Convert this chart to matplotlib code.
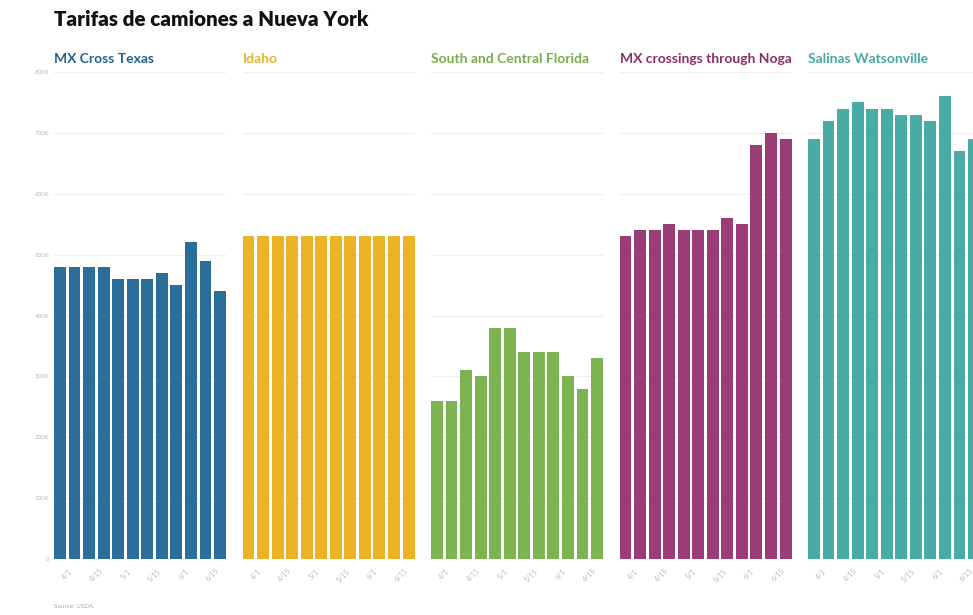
import matplotlib.pyplot as plt
import numpy as np
from matplotlib.transforms import Bbox, TransformedBbox

# weekly rates per origin (USD per truckload to New York)
weeks = ["4/1", "4/8", "4/15", "4/22", "5/1", "5/8", "5/15", "5/22", "6/1", "6/8", "6/15", "6/22"]
origins = ["MX Cross Texas", "Idaho", "South and Central Florida",
           "MX crossings through Nogales", "Salinas Watsonville"]
mx_texas = [4800, 4800, 4800, 4800, 4600, 4600, 4600, 4700, 4500, 5200, 4900, 4400]
idaho = [5300] * 12
florida = [2600, 2600, 3100, 3000, 3800, 3800, 3400, 3400, 3400, 3000, 2800, 3300]
nogales = [5300, 5400, 5400, 5500, 5400, 5400, 5400, 5600, 5500, 6800, 7000, 6900]
salinas = [6900, 7200, 7400, 7500, 7400, 7400, 7300, 7300, 7200, 7600, 6700, 6900]
series = [mx_texas, idaho, florida, nogales, salinas]
colors = ["#2b6e99", "#ebb424", "#7db353", "#9a3c75", "#48aca5"]
title_colors = ["#21628f", "#e9b325", "#77ad4d", "#8c2f68", "#43a9a2"]
yticks = [0, 1000, 2000, 3000, 4000, 5000, 6000, 7000, 8000]

plt.rcParams['font.family'] = ['Lato', 'DejaVu Sans']

fig = plt.figure(figsize=(9.73, 6.15), dpi=100)
fig.text(54 / 973, 1 - 19 / 615, "Tarifas de camiones a Nueva York",
         fontsize=14.8, fontweight="heavy", color="#111111", va="center")
fig.text(54 / 973, 1 - 606 / 615, "Source: USDA", fontsize=4.5, color="#aaaaaa", va="center")

left0 = 54 / 973
width = 172 / 973
pitch = 188.5 / 973
bottom = 1 - 559 / 615
height = (559 - 72) / 615

x = np.arange(len(weeks))
for i, (name, vals) in enumerate(zip(origins, series)):
    ax = fig.add_axes([left0 + i * pitch, bottom, width, height])
    ax.bar(x, vals, width=0.82, color=colors[i], zorder=2)
    ax.set_xlim(-0.41, 11.41)
    ax.set_ylim(0, 8000)
    ax.set_yticks(yticks)
    ax.grid(axis="y", color="#eeeeee", linewidth=0.8, zorder=0)
    for s in ax.spines.values():
        s.set_visible(False)
    ax.tick_params(length=0, labelsize=4.5, labelcolor="#bbbbbb")
    if i == 0:
        ax.set_yticklabels([str(v) for v in yticks])
    else:
        ax.set_yticklabels([])
    ax.set_xticks(x[::2] + 0.5)
    ax.set_xticklabels(weeks[::2], rotation=45, ha="center", fontsize=5)
    ax.tick_params(axis="x", pad=6)
    t = ax.text(0, 1.015, name, transform=ax.transAxes, fontsize=10, fontweight="bold",
                color=title_colors[i], va="bottom", ha="left")
    # long titles get cut at the panel edge
    t.set_clip_box(TransformedBbox(Bbox([[0, 0], [1, 1.2]]), ax.transAxes))
    t.set_clip_on(True)

fig.savefig("out.png", dpi=100)
